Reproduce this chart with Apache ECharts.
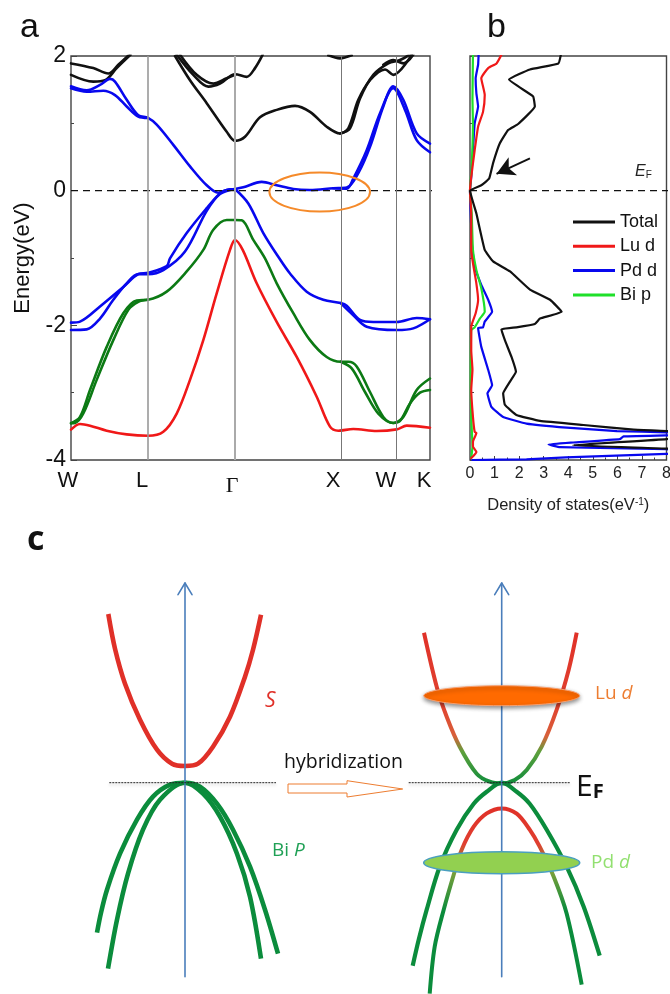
<!DOCTYPE html>
<html>
<head>
<meta charset="utf-8">
<style>html,body{margin:0;padding:0;background:#fff}#c{width:670px;height:994px}</style>
<script src="https://cdn.jsdelivr.net/npm/echarts@6/dist/echarts.min.js"></script>
</head>
<body>
<div id="c"></div>
<script>
// ---------- panel a: k-path and band energies [k, E(eV)]
const kPoints = [0, 77, 164, 270, 325.7, 359];
const kLabels = ['W', 'L', 'Γ', 'X', 'W', 'K'];
const kLabelAt = [0, 71, 161, 262, 315, 353];
const blueBands = [
 [[0,1.55],[15.7,1.49],[29,1.57],[39,1.66],[44,1.62],[55.7,1.35],[67.3,1.12],[77,1.08],[85.7,.98],[102.3,.68],[119,.36],[135.7,.08],[147.3,-.03],[155.7,.01],[164,.025],[172.3,.05],[190.7,.13],[205.7,.08],[222.3,.025],[239,.01],[262.3,.035],[275.7,.045],[287.3,.26],[299,.65],[312.3,1.25],[322.3,1.55],[332.3,1.35],[345.7,.85],[359,.70]],
 [[0,1.52],[15.7,1.47],[32.3,1.485],[44,1.42],[55.7,1.25],[67.3,1.10],[77,1.08]],
 [[262.3,.035],[275.7,.03],[282.3,.18],[295.7,.60],[309,1.15],[322.3,1.52],[334,1.20],[345.7,.75],[359,.57]],
 [[0,-1.96],[9,-1.945],[29,-1.72],[52.3,-1.43],[67.3,-1.24],[77,-1.22],[95.7,-1.12],[99,-1.005],[115.7,-.63],[135.7,-.26],[149,-.04],[155.7,.01],[164,.025]],
 [[0,-2.07],[15.7,-2.06],[29,-1.90],[42.3,-1.62],[55.7,-1.376],[67.3,-1.24],[77,-1.24],[92.3,-1.18],[114,-.905],[135.7,-.30],[149,-.05],[164,.025]],
 [[164,.025],[177.3,-.19],[192.3,-.63],[208.3,-1.005],[219,-1.23],[235.7,-1.50],[252.3,-1.62],[269.7,-1.67],[275.7,-1.71],[289,-1.92],[302.3,-1.95],[325.7,-1.95],[345.7,-1.89],[359,-1.91]],
 [[269.7,-1.67],[282.3,-1.85],[295.7,-2.02],[325.7,-2.07],[342.3,-2.045],[359,-1.91]]
];
const greenBands = [
 [[0,-3.455],[9,-3.36],[19,-2.96],[35.7,-2.32],[52.3,-1.82],[65.7,-1.63],[77,-1.62],[95.7,-1.50],[115.7,-1.20],[132.3,-.88],[142.3,-.58],[155.7,-.435],[164,-.435],[170.7,-.44],[182.3,-.73],[194,-1.005],[205.7,-1.376],[222.3,-1.82],[239,-2.22],[255.7,-2.47],[269.7,-2.54],[277.3,-2.54],[285.7,-2.61],[299,-2.99],[312.3,-3.36],[322.3,-3.45],[332.3,-3.36],[345.7,-2.96],[359,-2.79]],
 [[0,-3.455],[4,-3.45],[12.3,-3.31],[25.7,-2.81],[42.3,-2.22],[57.3,-1.77],[67.3,-1.65],[77,-1.62]],
 [[269.7,-2.54],[280.7,-2.64],[294,-2.99],[307.3,-3.31],[322.3,-3.45],[329,-3.42],[339,-3.16],[349,-3.0],[359,-2.96]]
];
const redBands = [
 [[0,-3.55],[9,-3.465],[19,-3.49],[35.7,-3.565],[55.7,-3.62],[77,-3.64],[92.3,-3.58],[105.7,-3.31],[119,-2.81],[132.3,-2.22],[145.7,-1.525],[159,-.88],[164,-.733],[171.7,-.88],[185.7,-1.376],[205.7,-1.95],[225.7,-2.47],[245.7,-3.06],[259,-3.505],[267.3,-3.565],[282.3,-3.54],[305.7,-3.57],[325.7,-3.545],[335.7,-3.49],[359,-3.52]]
];
const blackBands = [
 [[104,2.0],[119,1.64],[135.7,1.30],[155.7,.875],[164,.74],[174,.80],[189,1.09],[205.7,1.20],[224,1.26],[239,1.17],[255.7,.95],[269,.85],[277.3,.925],[287.3,1.35],[299,1.64],[314,1.80],[322.3,1.72],[340.7,2.02]],
 [[269,.85],[279,.925],[289,1.37],[302.3,1.72],[317.3,1.89],[329,1.94],[340.7,2.04]],
 [[105.7,2.02],[122.3,1.72],[137.3,1.545],[149,1.59],[164,1.73],[175.7,1.69],[184,1.82],[191.7,2.02]],
 [[109,2.02],[125.7,1.72],[142.3,1.59],[155.7,1.67],[164,1.72]],
 [[0,1.89],[22.3,1.82],[37.3,1.74],[47.3,1.87],[58.3,2.02]],
 [[0,1.72],[22.3,1.62],[34,1.64],[45.7,1.82],[59.7,2.02]],
 [[257.3,2.01],[269,1.965],[280.7,2.01]],
 [[312.3,1.87],[322.3,1.94],[332.3,1.89],[342.3,2.02]]
];
const fermiLine = [[0,0],[399,0]];
const fermiLineB = [[0,0],[8.1,0]];
const orangeOval = [[248.7,-.02,50.3,.29]];

// ---------- panel b: density of states [DOS, E(eV)]
const dosTotal = [[3.7,2.02],[3.6,1.89],[2.44,1.80],[1.59,1.65],[2.57,1.40],[2.64,1.25],[1.96,.99],[1.55,.90],[1.21,.70],[.94,.41],[.78,.18],[.46,.08],[0,0],[.26,-.34],[.6,-.88],[.94,-1.05],[1.63,-1.20],[2.44,-1.47],[3.26,-1.62],[3.73,-1.80],[2.85,-1.90],[2.64,-1.98],[1.89,-2.03],[1.28,-2.06],[1.42,-2.22],[1.69,-2.47],[1.87,-2.69],[1.62,-2.84],[1.35,-3.01],[1.42,-3.18],[1.89,-3.33],[2.85,-3.42],[4.62,-3.48],[6.66,-3.55],[8,-3.57],[9.5,-3.6],[8,-3.69],[4.2,-3.78],[8,-3.83],[9.5,-3.86]];
const dosLuD = [[1.28,2.02],[1.08,1.89],[.74,1.82],[.46,1.67],[.6,1.42],[.53,1.17],[.33,.95],[.19,.6],[.05,.2],[0,0],[.05,-.34],[.05,-.88],[.26,-1.38],[.33,-1.62],[.23,-1.82],[.05,-2.02],[.05,-2.37],[.1,-2.66],[.05,-2.96],[.12,-3.36],[.19,-3.58],[.26,-3.6],[.12,-3.73],[.12,-3.8],[.26,-3.88],[.05,-3.97]];
const dosPdD = [[.35,2.02],[.33,1.87],[.23,1.67],[.26,1.445],[.33,1.25],[.19,1.0],[.12,.6],[.05,.2],[0,0],[.03,-.34],[.08,-.8],[.19,-1.13],[.46,-1.40],[.74,-1.62],[.9,-1.80],[.6,-1.945],[.53,-2.03],[.33,-2.04],[.46,-2.32],[.74,-2.66],[.9,-2.89],[.71,-3.01],[.87,-3.21],[1.35,-3.36],[2.3,-3.46],[3.94,-3.52],[5.98,-3.57],[8,-3.59],[9.5,-3.62],[6.25,-3.65],[6.1,-3.69],[4.2,-3.74],[3.2,-3.77],[3.66,-3.81],[8,-3.84],[9.5,-3.88],[8,-3.91],[3.9,-3.96],[2.3,-3.99],[.1,-4.0]];
const dosBiP = [[.12,2.02],[.1,1.35],[.12,1],[.07,.36],[0,0],[.07,-.34],[.12,-.88],[.26,-1.18],[.46,-1.45],[.6,-1.80],[.4,-1.90],[.19,-2.03],[.05,-2.07],[.03,-2.86],[.05,-3.36],[.1,-3.8],[.05,-3.97]];

// ---------- panel c: schematic bands [k, e] measured from the axis and the Fermi level
const axisLine = [[0,-194],[0,199.7]];
const axisHead = [[-7,188],[0,199.7],[7,188]];
const cFermi = [[-75.7,0],[91,0]];
const cRFermi = [[-93,0],[69,0]];
const sBand = [[-76.7,168.7],[-70,134],[-60,99],[-45,63],[-28,33],[-13,19],[0,16.7],[13,19],[28,36],[45,66],[60,106],[68,133],[76,168]];
const pOuter = [[-88,-150],[-84,-130],[-78,-107],[-65,-71],[-48,-37],[-32,-14],[-15,-2],[0,0],[15,-4],[32,-21],[48,-47],[65,-84],[80,-127],[93,-171]];
const pInner = [[-77,-186],[-68,-137],[-57,-91],[-42,-47],[-25,-17],[0,0],[18,-11],[35,-34],[52,-71],[65,-114],[76,-176]];
const hybUpper = [[-77.7,150],[-65,96],[-55,66],[-42,36],[-25,9],[-12,1],[0,-.7],[13,2.7],[25,12.7],[40,36],[55,73],[67,113],[75,150]];
const hybInner = [[-72,-211],[-67,-164],[-58,-127],[-48,-92],[-40,-67],[-28,-44],[-15,-30.7],[0,-25.7],[15,-31],[28,-47],[38,-64],[52,-94],[65,-131],[80,-202]];
const hybOuter = [[-89,-183],[-83,-157],[-75,-127],[-62,-84],[-45,-47],[-28,-21],[-15,-9],[0,0],[15,-9],[28,-21],[45,-47],[65,-84],[82,-124],[98,-173]];
const luOval = [[0,87,78,10]];
const pdOval = [[0,-80,78,11]];

const chart = echarts.init(document.getElementById('c'), null, {renderer:'canvas'});
const sans = '"Liberation Sans", Arial, sans-serif';
const calibri = '"Open Sans", sans-serif';
const axisBlue = '#4a7ebb';
const bandGreen = '#0b8c3c';

const ovalRender = (params, api) => {
  const c = api.coord([api.value(0), api.value(1)]);
  const s = api.size([api.value(2), api.value(3)]);
  return {type:'ellipse', shape:{cx:c[0], cy:c[1], rx:s[0], ry:s[1]}, style:api.style()};
};
const oval = (g, data, style) => ({type:'custom', xAxisIndex:g, yAxisIndex:g, data, z:6, silent:true,
  renderItem:ovalRender, itemStyle:style, encode:{x:0,y:1}, clip:false});
const line = (g, data, color, width, extra) => Object.assign({type:'line', xAxisIndex:g, yAxisIndex:g, data,
  showSymbol:false, symbol:'none', silent:true, smooth:.33, lineStyle:{color, width, cap:'round', join:'round'}, itemStyle:{color}}, extra||{});
const bands = (list, color) => list.map(d => line(0, d, color, 2.6, {z:3}));

const kColors = ['#444','#999','#aaa','#777','#777','#444'];
const kWidths = [1,1.6,2,1,1,1];
const dashStyle = {color:'#111', width:1.4, type:[7,5]};
const dotStyle = {color:'#222', width:1, type:[2,1], shadowColor:'rgba(0,0,0,.25)', shadowBlur:3, shadowOffsetY:2};

const series = [
  {type:'line', xAxisIndex:0, yAxisIndex:0, data:[], silent:true, markLine:{silent:true, symbol:'none', animation:false, label:{show:false},
    data:kPoints.slice(1,5).map((k,i)=>({xAxis:k, lineStyle:{type:'solid', color:kColors[i+1], width:kWidths[i+1]}}))}, z:1},
  ...bands(blackBands,'#111'),
  ...bands(blueBands,'#0808ee'),
  ...bands(greenBands,'#0c7a14'),
  ...bands(redBands,'#f01818'),
  line(0, fermiLine, '#111', 1.4, {smooth:false, clip:false, z:4, lineStyle:dashStyle}),
  line(1, fermiLineB, '#111', 1.4, {smooth:false, clip:false, z:4, lineStyle:dashStyle}),
  oval(0, orangeOval, {color:'none', borderColor:'#f58a2a', borderWidth:2}),
  line(1, dosBiP, '#1fe02a', 2.2, {name:'Bi p', smooth:.15, z:3}),
  line(1, dosLuD, '#f01818', 2.2, {name:'Lu d', smooth:.15, z:4}),
  line(1, dosPdD, '#0808ee', 2.2, {name:'Pd d', smooth:.1, z:2}),
  line(1, dosTotal, '#111', 2.2, {name:'Total', smooth:.1, z:5}),
  {type:'line', xAxisIndex:1, yAxisIndex:1, data:[], silent:true, markLine:{silent:true, animation:false, label:{show:false},
    lineStyle:{color:'#111', width:2, type:'solid'},
    data:[[{coord:[2.44,.48], symbol:'none'},{coord:[1.08,.25], symbol:'arrow', symbolSize:[15,18]}]]}},
  // panel c left
  line(2, axisLine, axisBlue, 1.6, {smooth:false, z:4}),
  line(2, axisHead, axisBlue, 1.6, {smooth:false, z:4}),
  line(2, cFermi, '#222', 1, {smooth:false, z:5, lineStyle:dotStyle}),
  line(2, sBand, '#e03028', 4.6, {z:3, lineStyle:{color:'#e03028', width:4.6, cap:'butt'}}),
  line(2, pOuter, bandGreen, 4.6, {z:3, lineStyle:{color:bandGreen, width:4.6, cap:'butt'}}),
  line(2, pInner, bandGreen, 4.6, {z:3, lineStyle:{color:bandGreen, width:4.6, cap:'butt'}}),
  // panel c right
  line(3, axisLine, axisBlue, 1.6, {smooth:false, z:4}),
  line(3, axisHead, axisBlue, 1.6, {smooth:false, z:4}),
  line(3, cRFermi, '#222', 1, {smooth:false, z:5, lineStyle:dotStyle}),
  line(3, hybUpper, bandGreen, 4, {z:3, lineStyle:{width:4, cap:'butt', color:new echarts.graphic.LinearGradient(0,0,0,1,[
    {offset:0,color:'#e03028'},{offset:.5,color:'#e04430'},{offset:.68,color:'#d8603a'},{offset:.78,color:'#5ea03c'},{offset:1,color:bandGreen}])}}),
  line(3, hybInner, bandGreen, 4, {z:3, lineStyle:{width:4, cap:'butt', color:new echarts.graphic.LinearGradient(0,0,0,1,[
    {offset:0,color:'#e03028'},{offset:.2,color:'#e03f30'},{offset:.34,color:'#7fa03a'},{offset:.55,color:bandGreen},{offset:1,color:bandGreen}])}}),
  line(3, hybOuter, bandGreen, 4.2, {z:3, lineStyle:{color:bandGreen, width:4.2, cap:'butt'}}),
  oval(3, luOval, {color:'#ff6a00', borderColor:'#f9a070', borderWidth:1, shadowColor:'rgba(0,0,0,.45)', shadowBlur:4, shadowOffsetY:2}),
  oval(3, pdOval, {color:'#92d050', borderColor:'#4a9fc0', borderWidth:1.6})
];

const hidden = (g, min, max) => ({gridIndex:g, type:'value', show:false, min, max, scale:false, splitLine:{show:false}});
const text = (x, y, t, font, fill, rich) => ({type:'text', x, y, z:20, silent:true,
  style:{text:t, font, fill, rich, verticalAlign:'middle', align:'left'}});

chart.setOption({
  animation:false,
  backgroundColor:'#fff',
  grid:[
    {left:71, top:56, width:359, height:404, outerBoundsMode:'none', show:true, borderColor:'#444', borderWidth:1.4, backgroundColor:'transparent', containLabel:false},
    {left:470, top:56, width:196.5, height:404, outerBoundsMode:'none', show:true, borderColor:'#444', borderWidth:1.4, backgroundColor:'transparent'},
    {left:85, top:580, width:200, height:414, outerBoundsMode:'none'},
    {left:401.7, top:580, width:200, height:414, outerBoundsMode:'none'}
  ],
  xAxis:[
    {gridIndex:0, type:'value', min:0, max:359, axisLine:{show:false, onZero:false}, axisTick:{show:false}, splitLine:{show:false},
      axisLabel:{customValues:kLabelAt, margin:10, color:'#111', fontFamily:sans, fontSize:22, hideOverlap:false, showMinLabel:true, showMaxLabel:true,
        formatter:v=>{const i=kLabelAt.indexOf(v), t=kLabels[i]; return t==='Γ'?'{g|Γ}':(i===0?'{w|W}':t);},
        rich:{g:{fontFamily:'"Liberation Serif", serif', fontSize:22, color:'#111', padding:[5,0,0,0]}, w:{fontFamily:sans, fontSize:22, color:'#111', padding:[0,6,0,0]}}}},
    {gridIndex:1, type:'value', min:0, max:8, interval:1, axisLine:{show:false, onZero:false},
      axisTick:{show:true, inside:true, length:4, lineStyle:{color:'#444', width:1}},
      minorTick:{show:true, splitNumber:2, length:2.5, lineStyle:{color:'#444'}},
      splitLine:{show:false},
      axisLabel:{margin:6, color:'#222', fontFamily:sans, fontSize:16, showMinLabel:true, showMaxLabel:true},
      name:'Density of states(eV{sup|-1})', nameLocation:'middle', nameGap:37,
      nameTextStyle:{color:'#222', fontFamily:sans, fontSize:16.5, rich:{sup:{fontSize:10, fontFamily:sans, color:'#222', verticalAlign:'top', padding:[0,0,7,0]}}}},
    hidden(2,-100,100),
    hidden(3,-100,100)
  ],
  yAxis:[
    {gridIndex:0, type:'value', min:-4, max:2, interval:2, axisLine:{show:false, onZero:false},
      axisTick:{show:true, inside:true, length:6, lineStyle:{color:'#444', width:1}},
      minorTick:{show:true, splitNumber:2, length:3, lineStyle:{color:'#444'}},
      splitLine:{show:false},
      axisLabel:{margin:5, padding:[3,0,0,0], color:'#111', fontFamily:sans, fontSize:23, showMinLabel:true, showMaxLabel:true},
      name:'Energy(eV)', nameLocation:'middle', nameGap:37, nameRotate:90, nameTextStyle:{color:'#111', fontFamily:sans, fontSize:22}},
    {gridIndex:1, type:'value', min:-4, max:2, interval:1, axisLine:{show:false, onZero:false},
      axisTick:{show:true, inside:true, length:4, lineStyle:{color:'#444', width:1}}, splitLine:{show:false}, axisLabel:{show:false}},
    hidden(2,-211.3,202.7),
    hidden(3,-211.3,202.7)
  ],
  legend:{show:true, data:['Total','Lu d','Pd d','Bi p'], orient:'vertical', left:568, top:208, itemWidth:42, itemHeight:3, itemGap:6.3, icon:'rect',
    selectedMode:false, textStyle:{color:'#111', fontFamily:sans, fontSize:18}},
  series,
  graphic:[
    text(20, 28, 'a', '34px '+sans, '#111'),
    text(487, 28, 'b', '34px '+sans, '#111'),
    text(27, 540, 'c', 'bold 34px '+calibri, '#111'),
    text(635, 172, '{e|E}{f|F}', '16px '+sans, '#222', {e:{font:'italic 16px '+sans, fill:'#222'}, f:{font:'10px '+sans, fill:'#222', padding:[6,0,0,0]}}),
    text(265, 701, 'S', 'italic 21px '+calibri, '#e03028'),
    text(272, 851, 'Bi {i|P}', '19px '+calibri, '#1fa055', {i:{font:'italic 19px '+calibri, fill:'#1fa055'}}),
    text(284, 762, 'hybridization', '19.5px '+calibri, '#111'),
    text(595, 694, 'Lu {i|d}', '19px '+calibri, '#ed7d31', {i:{font:'italic 19px '+calibri, fill:'#ed7d31'}}),
    text(591, 863, 'Pd {i|d}', '19px '+calibri, '#92e070', {i:{font:'italic 19px '+calibri, fill:'#92e070'}}),
    text(576, 787, '{e|E}{f|F}', '30px '+calibri, '#111', {e:{font:'30px '+calibri, fill:'#111'}, f:{font:'bold 20px '+calibri, fill:'#111', padding:[10,0,0,0]}}),
    {type:'polygon', z:20, silent:true, shape:{points:[[288,784],[347,784],[347,780.7],[402.7,789],[347,797],[347,793],[288,793]]},
      style:{fill:'#fff', stroke:'#ed7d31', lineWidth:1}}
  ]
});
</script>
</body>
</html>
